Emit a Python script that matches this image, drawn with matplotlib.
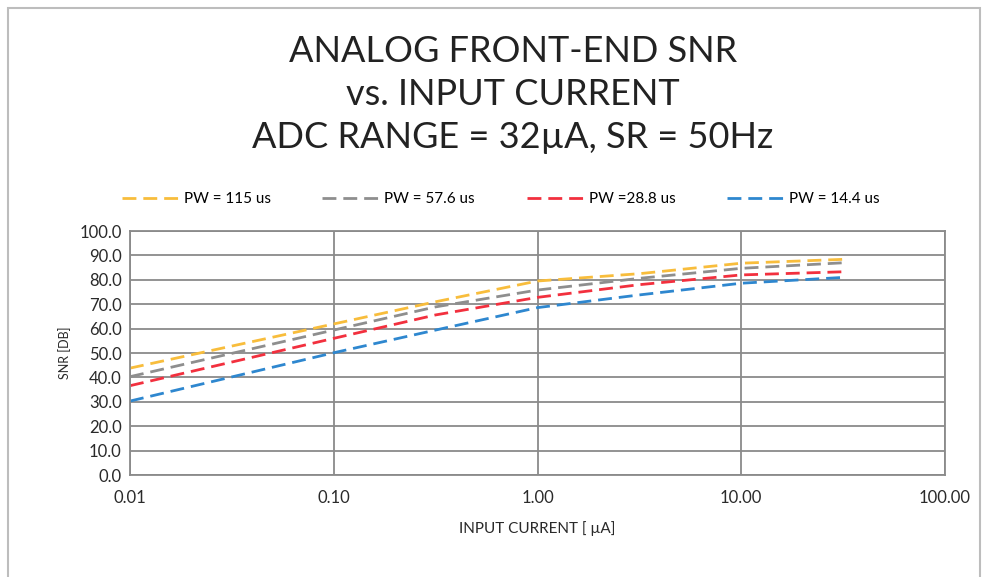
import numpy as np
import matplotlib.pyplot as plt
from matplotlib.patches import Rectangle

# input current (uA) and SNR (dB)
current = [0.01, 0.1, 0.316, 1.0, 3.16, 10.0, 32.0]
snr_115 = [43.8, 61.9, 71.0, 79.5, 82.5, 86.8, 88.4]
snr_57 = [40.3, 59.4, 68.9, 75.8, 80.6, 84.7, 87.0]
snr_28 = [36.6, 56.0, 65.6, 72.8, 78.0, 82.0, 83.3]
snr_14 = [30.3, 50.1, 59.4, 68.6, 73.8, 78.6, 81.0]

labels = ["PW = 115 us", "PW = 57.6 us", "PW =28.8 us", "PW = 14.4 us"]
colors = ["#F8BD3C", "#8E8E8E", "#F2303E", "#2E87CF"]

xticks = [0.01, 0.1, 1, 10, 100]
xtick_labels = ["0.01", "0.10", "1.00", "10.00", "100.00"]
yticks = np.arange(0, 101, 10)

plt.rcParams['font.family'] = ['Lato', 'DejaVu Sans']

fig = plt.figure(figsize=(9.9, 5.77), dpi=100)
fig.patches.append(Rectangle((8/990, -0.1), 972/990, 1.1 - 8/577, transform=fig.transFigure,
                             fill=False, edgecolor="#BDBDBD", linewidth=1.5))

ax = fig.add_axes([130/990, 1 - 475/577, 815/990, 244/577])
for y, lab, c in zip([snr_115, snr_57, snr_28, snr_14], labels, colors):
    ax.plot(current, y, color=c, linewidth=2.0, dashes=(5, 2.5), label=lab)

ax.set_xscale("log")
ax.set_xlim(0.01, 100)
ax.set_ylim(0, 100)
ax.set_xticks(xticks)
ax.set_xticklabels(xtick_labels)
ax.minorticks_off()
ax.set_yticks(yticks)
ax.set_yticklabels(["%.1f" % v for v in yticks])
ax.tick_params(length=0, labelsize=12, colors="#2A2A2A", pad=6)
ax.tick_params(axis="x", pad=11)
ax.grid(True, color="#8A8A8A", linewidth=1.3)
for s in ax.spines.values():
    s.set_color("#8A8A8A")
    s.set_linewidth(1.3)

ax.set_xlabel("INPUT CURRENT [ \u00b5A]", fontsize=11, color="#2A2A2A", labelpad=11)
ax.set_ylabel("SNR [DB]", fontsize=9, color="#2A2A2A", labelpad=6)

ax.legend(loc="lower center", bbox_to_anchor=(0.455, 1.045), ncol=4, frameon=False,
          fontsize=11, handlelength=3.8, handletextpad=0.25, columnspacing=3.4)

title_kw = dict(ha="center", va="center", fontsize=26, color="#222222")
fig.text(0.518, 0.91, "ANALOG FRONT-END SNR", **title_kw)
fig.text(0.518, 0.836, "vs. INPUT CURRENT", **title_kw)
fig.text(0.518, 0.762, "ADC RANGE = 32\u00b5A, SR = 50Hz", **title_kw)

fig.savefig("out.png", dpi=100)
